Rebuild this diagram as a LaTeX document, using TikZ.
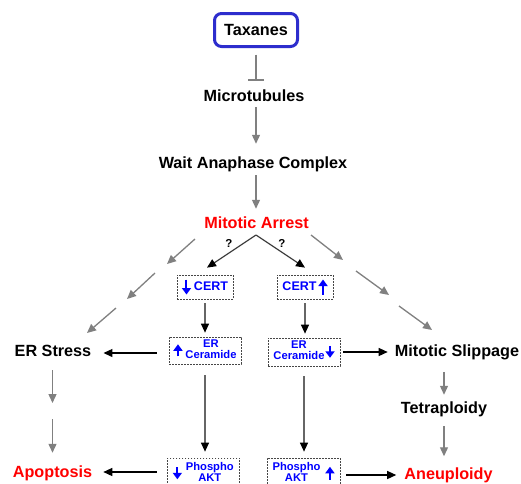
\documentclass[tikz,border=0pt]{standalone}
\usepackage{fontspec}
\setmainfont{Liberation Sans}
\usetikzlibrary{arrows.meta,calc}
\definecolor{taxblue}{RGB}{45,45,205}
\definecolor{arrgray}{RGB}{128,128,128}
\definecolor{boxgray}{RGB}{70,70,70}
\definecolor{dkline}{RGB}{60,60,60}
\newcommand{\bdown}[1]{\tikz[baseline=-0.5ex]\draw[blue,line width=2pt,-{Triangle[length=6.5pt,width=9pt]}] (0pt,#1/2) -- (0pt,-#1/2);}
\newcommand{\bup}[1]{\tikz[baseline=-0.5ex]\draw[blue,line width=2pt,-{Triangle[length=6.5pt,width=9pt]}] (0pt,-#1/2) -- (0pt,#1/2);}
\newcommand{\twol}[2]{\begin{tabular}{@{}c@{}}#1\\#2\end{tabular}}
\begin{document}
\begin{tikzpicture}[x=1pt,y=-1pt,
  lbl/.style={font=\bfseries\fontsize{16.2}{19}\selectfont, text height=11.6pt, text depth=0pt, inner sep=0pt},
  redlbl/.style={lbl, text=red},
  dbox/.style={draw=boxgray, dash pattern=on 1.6pt off 1.4pt, line width=0.7pt, text=blue, font=\bfseries\fontsize{11.2}{10.6}\selectfont, inner sep=0pt},
  garrow/.style={draw=arrgray, line width=1.3pt, -{Triangle[length=9pt,width=8pt]}},
  karrow/.style={draw=black, line width=1.3pt, -{Triangle[length=9pt,width=8pt]}},
  mixarrow/.style={draw=dkline, line width=1.2pt, -{Triangle[length=9pt,width=8pt,color=black]}},
  grayline/.style={draw=arrgray!80!black, line width=1.2pt, -{Triangle[length=9pt,width=8pt,color=black]}},
  qlbl/.style={font=\bfseries\fontsize{11.5}{13}\selectfont, inner sep=0pt}
]
\useasboundingbox[fill=white] (0,0) rectangle (521,483);

% main labels
\node[lbl, draw=taxblue, line width=3pt, rounded corners=7pt, minimum width=83pt, minimum height=33pt] (tax) at (256,30) {Taxanes};
\node[lbl] (mt) at (254,96) {Microtubules};
\node[lbl] (wac) at (253,163) {Wait Anaphase Complex};
\node[redlbl] (ma) at (256.5,223) {Mitotic Arrest};
\node[qlbl] (q1) at (229,243) {?};
\node[qlbl] (q2) at (282,243) {?};
\node[lbl] (es) at (53,351) {ER Stress};
\node[lbl] (ms) at (457,350.5) {Mitotic Slippage};
\node[lbl] (tetra) at (444,408) {Tetraploidy};
\node[redlbl] (apo) at (52.5,472) {Apoptosis};
\node[redlbl] (aneu) at (448.5,473.5) {Aneuploidy};

% dashed boxes
\node[dbox, font=\bfseries\fontsize{12.5}{14}\selectfont, minimum width=56pt, minimum height=24pt] (certL) at (205,287) {\bdown{15pt}\hspace{3pt}CERT};
\node[dbox, font=\bfseries\fontsize{12.5}{14}\selectfont, minimum width=56pt, minimum height=24pt] (certR) at (305,287) {CERT\hspace{2pt}\bup{15pt}};
\node[dbox, minimum width=72pt, minimum height=27pt] (erL) at (205,350.5) {\bup{12pt}\hspace{3pt}\twol{ER}{Ceramide}};
\node[dbox, minimum width=72pt, minimum height=28pt] (erR) at (304,352) {\twol{ER}{Ceramide}\hspace{1pt}\bdown{12pt}};
\node[dbox, minimum width=72pt, minimum height=31pt] (phL) at (203.3,473.5) {\bdown{12pt}\hspace{4pt}\twol{Phospho}{AKT}};
\node[dbox, minimum width=73pt, minimum height=31pt] (phR) at (303.5,473.5) {\twol{Phospho}{AKT}\hspace{5pt}\bup{13pt}};

% main spine
\draw[draw=arrgray, line width=1.3pt, -{Bar[width=16pt,line width=1.3pt]}, shorten <=6.5pt, shorten >=9.25pt] (tax.south) -- (tax.south |- mt.north);
\draw[garrow, shorten <=5.25pt, shorten >=13.25pt] (tax.south |- mt.south) -- (tax.south |- wac.north);
\draw[garrow, shorten <=6pt, shorten >=8.25pt] (tax.south |- wac.south) -- (tax.south |- ma.north);

% mitotic arrest to CERT
\draw[mixarrow] ($(ma.south)+(-0.5,6)$) -- ($(certL.north)+(2,-7)$);
\draw[mixarrow] ($(ma.south)+(-0.5,6)$) -- ($(certR.north)+(0,-7)$);

% gray chained arrows, left
\coordinate (l1) at (195,239); \coordinate (l2) at (167,264);
\coordinate (l3) at (155,273); \coordinate (l4) at (127,299);
\coordinate (l5) at (116,308); \coordinate (l6) at (87,333);
\draw[garrow] (l1) -- (l2);
\draw[garrow] (l3) -- (l4);
\draw[garrow] (l5) -- (l6);
% gray chained arrows, right
\coordinate (r1) at (311,235); \coordinate (r2) at (343,260);
\coordinate (r3) at (356,271); \coordinate (r4) at (389,295);
\coordinate (r5) at (399,306); \coordinate (r6) at (432,330);
\draw[garrow] (r1) -- (r2);
\draw[garrow] (r3) -- (r4);
\draw[garrow] (r5) -- (r6);

% CERT to ER ceramide to phospho AKT
\draw[grayline, shorten <=4pt, shorten >=4pt] (certL.south) -- (certL.south |- erL.north);
\draw[grayline, shorten <=4pt, shorten >=4pt] (certR.south) -- (certR.south |- erR.north);
\draw[grayline, shorten <=11pt, shorten >=6pt] (erL.south) -- (erL.south |- phL.north);
\draw[grayline, shorten <=10pt, shorten >=6pt] (erR.south) -- (erR.south |- phR.north);

% horizontal black arrows
\draw[karrow, shorten <=12pt, shorten >=12pt] ([yshift=-2.5pt]erL.west) -- ([yshift=-2.5pt]erL.west -| es.east);
\draw[karrow, shorten <=10pt, shorten >=11pt] ([yshift=1.5pt]phL.west) -- ([yshift=1.5pt]phL.west -| apo.east);
\draw[karrow, shorten <=3pt, shorten >=7pt] (erR.east) -- (erR.east -| ms.west);
\draw[karrow, shorten <=6pt, shorten >=8pt] ([yshift=-1.5pt]phR.east) -- ([yshift=-1.5pt]phR.east -| aneu.west);

% ER stress to apoptosis (two segments)
\coordinate (e1) at (52.5,403); \coordinate (e2) at (52.5,419);
\draw[garrow, shorten <=13pt] (es.south -| e1) -- (e1);
\draw[garrow, shorten >=13.25pt] (e2) -- (e2 |- apo.north);

% slippage to tetraploidy to aneuploidy
\draw[garrow, shorten <=15.25pt, shorten >=7.25pt] (ms.south -| tetra.north) -- (tetra.north);
\draw[garrow, shorten <=12.25pt, shorten >=11.25pt] (tetra.south) -- (tetra.south |- aneu.north);
\end{tikzpicture}
\end{document}
